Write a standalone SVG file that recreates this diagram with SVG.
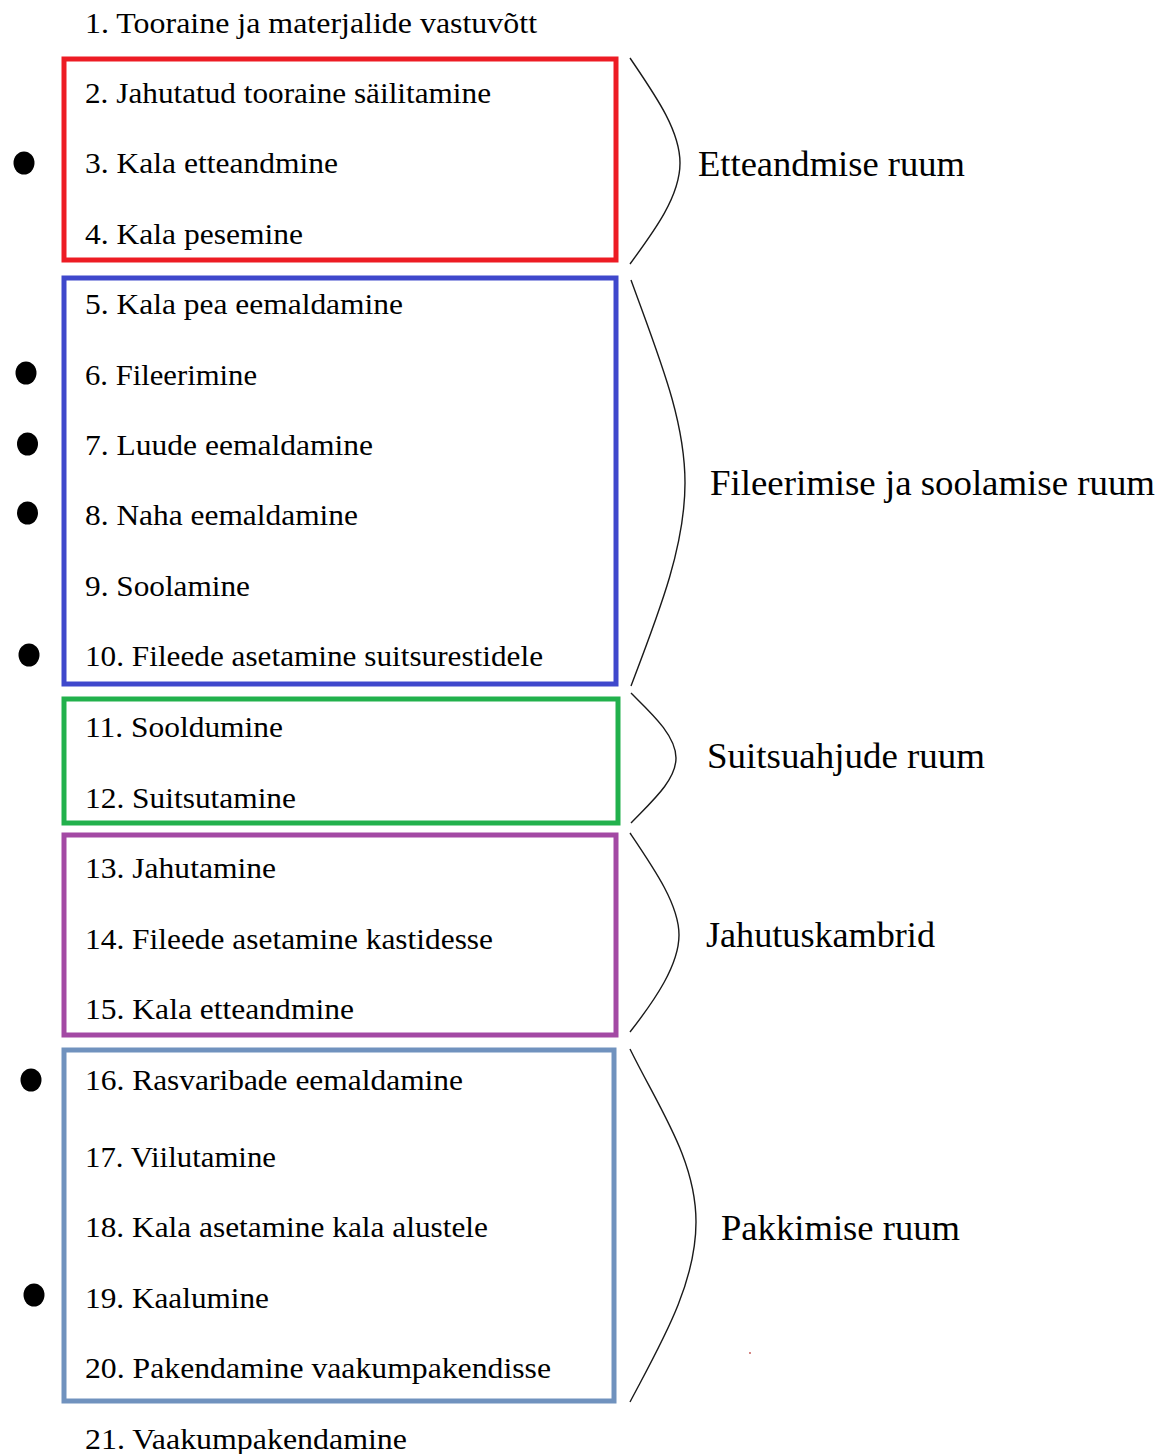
<svg xmlns="http://www.w3.org/2000/svg" width="1167" height="1454" viewBox="0 0 1167 1454">
<style>
  text { font-family: "Liberation Serif", "Times New Roman", serif; fill: #000; }
  .item { font-size: 29px; }
  .label { font-size: 36px; }
  .box { fill: none; stroke-width: 5; }
  .brace { fill: none; stroke: #1a1a1a; stroke-width: 1.4; }
  .dot { fill: #000; }
</style>
<rect width="1167" height="1454" fill="#fff"/>

<g id="item-1">
  <text class="item" x="85" y="32.5" textLength="452" lengthAdjust="spacingAndGlyphs">1. Tooraine ja materjalide vastuvõtt</text>
</g>

<g id="group-etteandmine">
  <rect class="box" x="64" y="59" width="552" height="201" stroke="#ED1C24"/>
  <text class="item" x="85" y="103" textLength="406" lengthAdjust="spacingAndGlyphs">2. Jahutatud tooraine säilitamine</text>
  <text class="item" x="85" y="173" textLength="253" lengthAdjust="spacingAndGlyphs">3. Kala etteandmine</text>
  <text class="item" x="85" y="244" textLength="218" lengthAdjust="spacingAndGlyphs">4. Kala pesemine</text>
</g>

<g id="group-fileerimine">
  <rect class="box" x="64" y="278" width="552" height="406" stroke="#3F48CC"/>
  <text class="item" x="85" y="314" textLength="318" lengthAdjust="spacingAndGlyphs">5. Kala pea eemaldamine</text>
  <text class="item" x="85" y="384.5" textLength="172" lengthAdjust="spacingAndGlyphs">6. Fileerimine</text>
  <text class="item" x="85" y="455" textLength="288" lengthAdjust="spacingAndGlyphs">7. Luude eemaldamine</text>
  <text class="item" x="85" y="525" textLength="273" lengthAdjust="spacingAndGlyphs">8. Naha eemaldamine</text>
  <text class="item" x="85" y="596" textLength="165" lengthAdjust="spacingAndGlyphs">9. Soolamine</text>
  <text class="item" x="85" y="666" textLength="458" lengthAdjust="spacingAndGlyphs">10. Fileede asetamine suitsurestidele</text>
</g>

<g id="group-suitsuahjud">
  <rect class="box" x="64" y="699" width="554" height="124" stroke="#22B14C"/>
  <text class="item" x="85" y="737" textLength="198" lengthAdjust="spacingAndGlyphs">11. Sooldumine</text>
  <text class="item" x="85" y="808" textLength="211" lengthAdjust="spacingAndGlyphs">12. Suitsutamine</text>
</g>

<g id="group-jahutus">
  <rect class="box" x="64" y="835" width="552" height="200" stroke="#A349A4"/>
  <text class="item" x="85" y="878" textLength="191" lengthAdjust="spacingAndGlyphs">13. Jahutamine</text>
  <text class="item" x="85" y="949" textLength="408" lengthAdjust="spacingAndGlyphs">14. Fileede asetamine kastidesse</text>
  <text class="item" x="85" y="1019" textLength="269" lengthAdjust="spacingAndGlyphs">15. Kala etteandmine</text>
</g>

<g id="group-pakkimine">
  <rect class="box" x="64" y="1050" width="550" height="351" stroke="#7092BE"/>
  <text class="item" x="85" y="1090" textLength="378" lengthAdjust="spacingAndGlyphs">16. Rasvaribade eemaldamine</text>
  <text class="item" x="85" y="1167" textLength="191" lengthAdjust="spacingAndGlyphs">17. Viilutamine</text>
  <text class="item" x="85" y="1237" textLength="403" lengthAdjust="spacingAndGlyphs">18. Kala asetamine kala alustele</text>
  <text class="item" x="85" y="1308" textLength="184" lengthAdjust="spacingAndGlyphs">19. Kaalumine</text>
  <text class="item" x="85" y="1378" textLength="466" lengthAdjust="spacingAndGlyphs">20. Pakendamine vaakumpakendisse</text>
</g>

<g id="item-21">
  <text class="item" x="85" y="1449" textLength="322" lengthAdjust="spacingAndGlyphs">21. Vaakumpakendamine</text>
</g>

<g id="bullets">
  <ellipse class="dot" cx="24" cy="163" rx="10.5" ry="11.5"/>
  <ellipse class="dot" cx="26" cy="373" rx="10.5" ry="11.5"/>
  <ellipse class="dot" cx="27.5" cy="444" rx="10.5" ry="11.5"/>
  <ellipse class="dot" cx="27.5" cy="513" rx="10.5" ry="11.5"/>
  <ellipse class="dot" cx="29" cy="655" rx="10.5" ry="11.5"/>
  <ellipse class="dot" cx="31" cy="1080" rx="10.5" ry="11.5"/>
  <ellipse class="dot" cx="34" cy="1295" rx="10.5" ry="11.5"/>
</g>

<g id="connectors">
  <path class="brace" d="M630,58 C655,95 680,130 680,163 C680,196 655,230 630,264"/>
  <path class="brace" d="M631,280 C660,360 685,420 685,483 C685,546 660,610 631,686"/>
  <path class="brace" d="M631,693 C650,712 676,735 676,758 C676,781 650,803 631,823"/>
  <path class="brace" d="M630,833 C655,870 679,905 679,935 C679,965 655,1000 630,1032"/>
  <path class="brace" d="M630,1049 C660,1110 696,1160 696,1222 C696,1285 660,1345 630,1402"/>
</g>

<g id="label-etteandmise">
  <text class="label" x="698" y="176" textLength="267" lengthAdjust="spacingAndGlyphs">Etteandmise ruum</text>
</g>
<g id="label-fileerimise">
  <text class="label" x="710" y="495" textLength="445" lengthAdjust="spacingAndGlyphs">Fileerimise ja soolamise ruum</text>
</g>
<g id="label-suitsuahjude">
  <text class="label" x="707" y="768" textLength="278" lengthAdjust="spacingAndGlyphs">Suitsuahjude ruum</text>
</g>
<g id="label-jahutuskambrid">
  <text class="label" x="706" y="947" textLength="229" lengthAdjust="spacingAndGlyphs">Jahutuskambrid</text>
</g>
<g id="label-pakkimise">
  <text class="label" x="721" y="1240" textLength="239" lengthAdjust="spacingAndGlyphs">Pakkimise ruum</text>
</g>

<circle cx="750" cy="1353" r="0.9" fill="#c0504d"/>
</svg>
